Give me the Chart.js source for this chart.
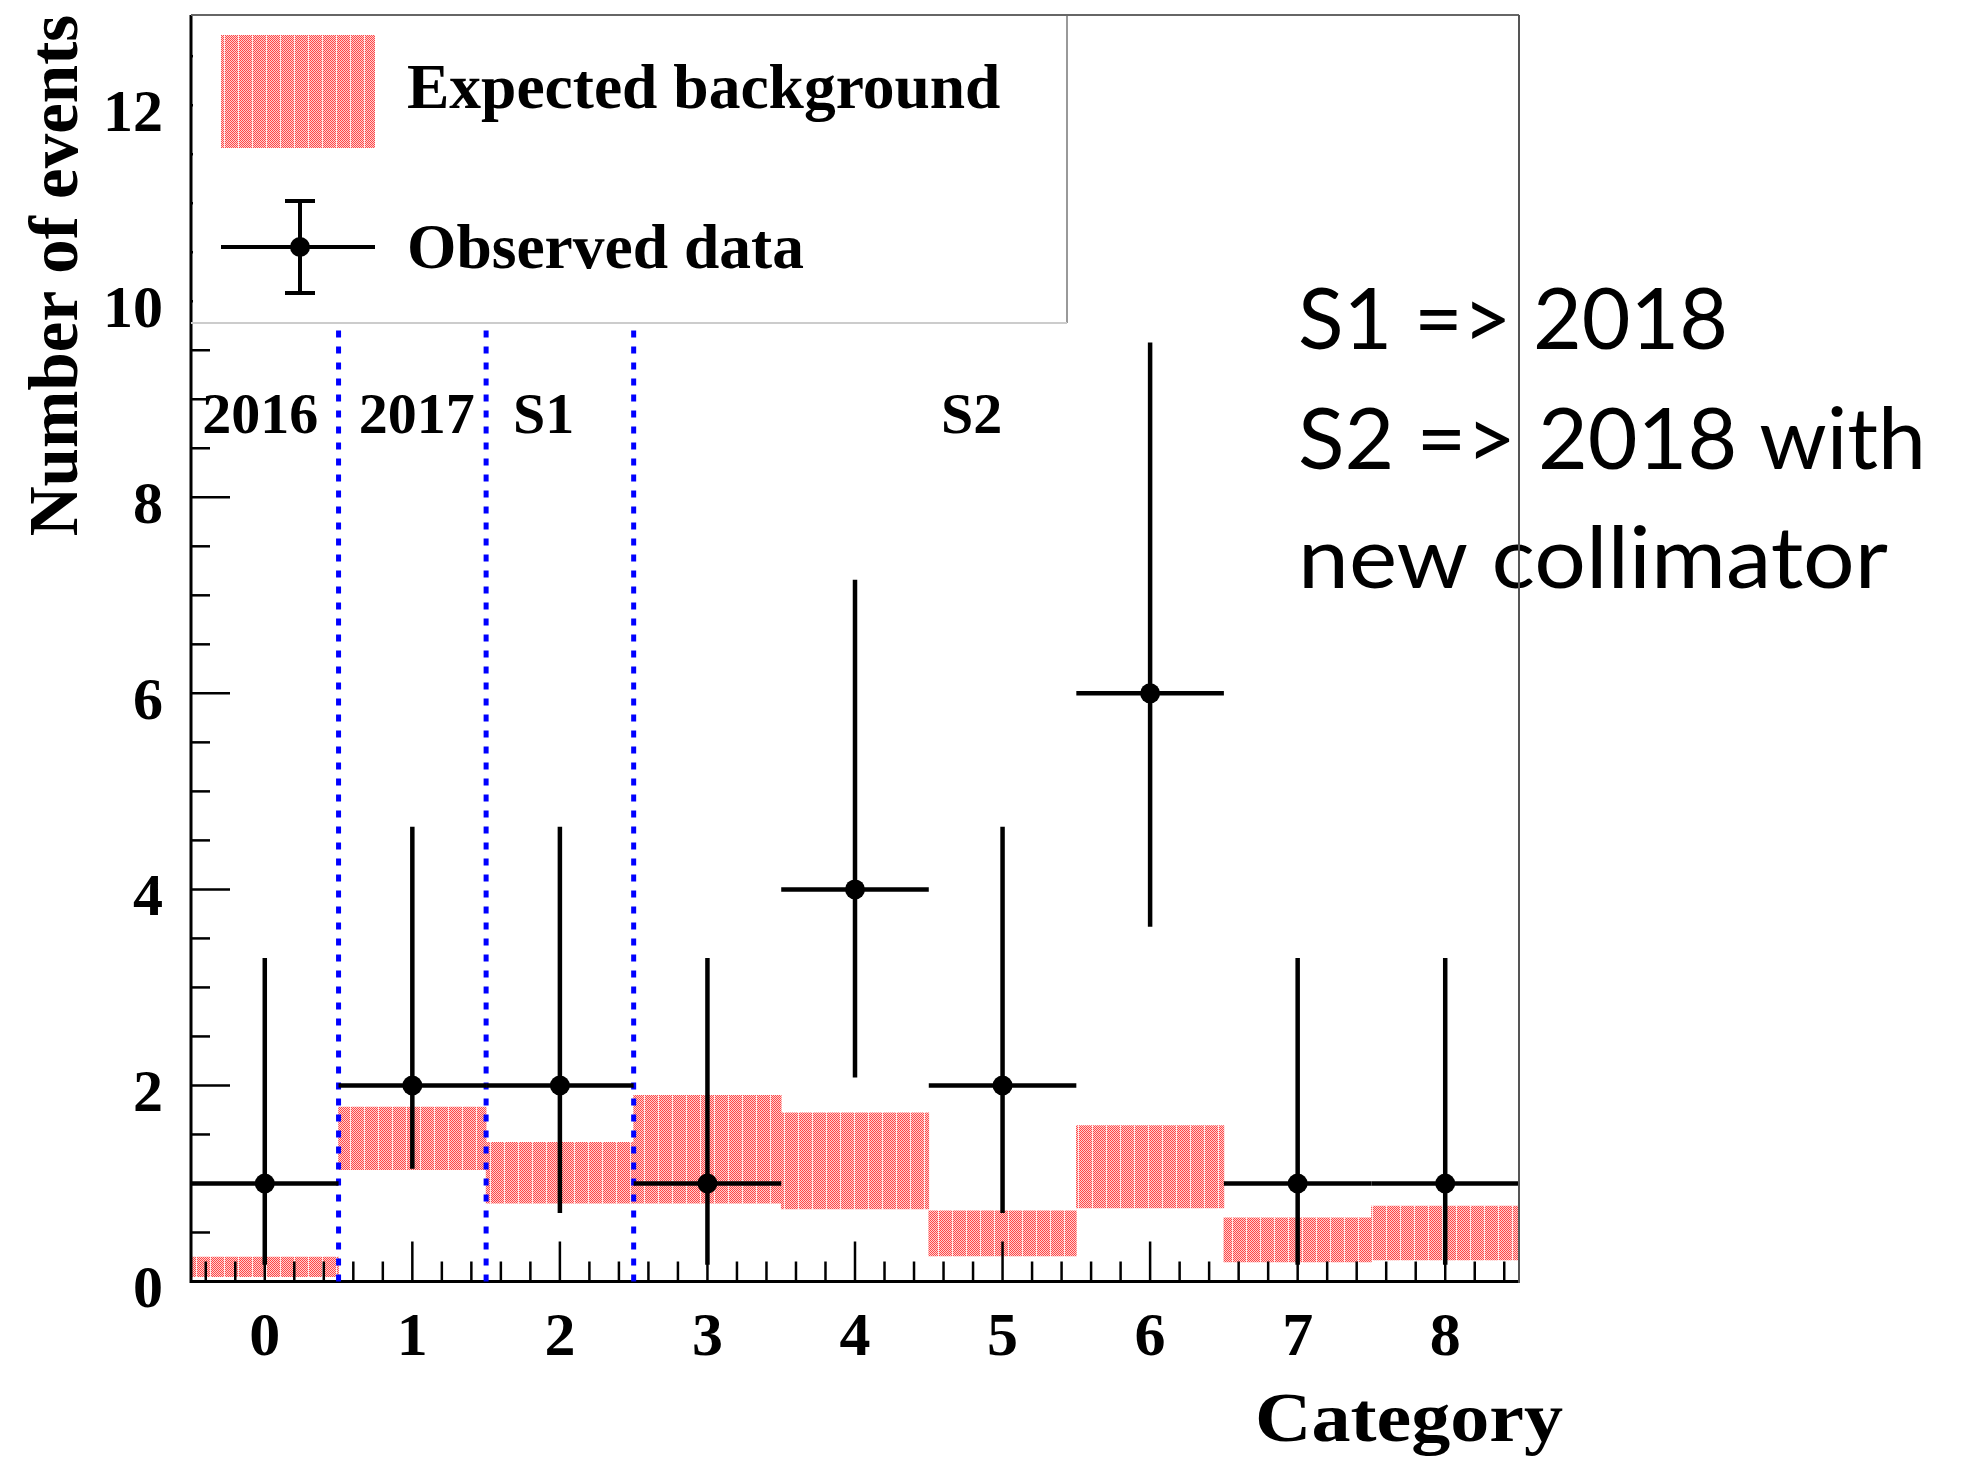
<!DOCTYPE html>
<html>
<head>
<meta charset="utf-8">
<script src="https://cdn.jsdelivr.net/npm/chart.js@4.4.0/dist/chart.umd.min.js"></script>
<style>
  html, body { margin: 0; padding: 0; background: #fff; }
</style>
</head>
<body>
<canvas id="myChart" width="1972" height="1458"></canvas>
<script>
// data
var categories = [0, 1, 2, 3, 4, 5, 6, 7, 8];
var observed   = [1, 2, 2, 1, 4, 2, 6, 1, 1];
var obsLow     = [0.17, 1.15, 0.70, 0.17, 2.08, 0.70, 3.62, 0.17, 0.17];
var obsHigh    = [3.30, 4.64, 4.64, 3.30, 7.16, 4.64, 9.58, 3.30, 3.30];
var bgLow      = [0.05, 1.14, 0.80, 0.80, 0.74, 0.26, 0.75, 0.20, 0.22];
var bgHigh     = [0.25, 1.78, 1.42, 1.90, 1.72, 0.72, 1.59, 0.65, 0.77];
var yTicks     = [0, 2, 4, 6, 8, 10, 12];
var periodEdges  = [0.5, 1.5, 2.5];
var periodLabels = ['2016', '2017', 'S1', 'S2'];
var periodLabelX = [-0.03, 1.03, 1.89, 4.79];
var notes = ['S1 => 2018', 'S2 => 2018 with', 'new collimator'];

var SERIF = "'Liberation Serif', 'Times New Roman', serif";

function makePattern() {
    var c = document.createElement('canvas');
    c.width = 14; c.height = 4;
    var g = c.getContext('2d');
    for (var x = 0; x < 14; x++) {
        for (var y = 0; y < 4; y++) {
            if (x === 0) g.fillStyle = '#ffe8e8';
            else g.fillStyle = ((x + y) % 2 === 0) ? '#ff4848' : '#ffd0d0';
            g.fillRect(x, y, 1, 1);
        }
    }
    return g.createPattern(c, 'repeat');
}
var bgPattern = makePattern();

function line(c, x1, y1, x2, y2) {
    c.beginPath(); c.moveTo(x1, y1); c.lineTo(x2, y2); c.stroke();
}

// draw text squeezed/stretched to a given width
function fitText(c, text, x, y, width) {
    var w = c.measureText(text).width;
    c.save();
    c.translate(x, y);
    c.scale(width / w, 1);
    c.fillText(text, 0, 0);
    c.restore();
}

var decor = {
    id: 'decor',
    afterDatasetDraw: function (chart, args) {
        if (args.index !== 0) return;
        var c = chart.ctx, xs = chart.scales.x, ys = chart.scales.y, a = chart.chartArea;
        c.save();
        // ticks inside the frame
        c.strokeStyle = '#000';
        c.lineWidth = 2.5;
        for (var k = 0; k <= 25; k++) {
            var v = k * 0.5, py = ys.getPixelForValue(v);
            line(c, a.left, py, a.left + (v % 2 === 0 ? 39 : 19), py);
        }
        for (var j = -2; j <= 42; j++) {
            var u = j * 0.2, px = xs.getPixelForValue(u);
            var major = Math.abs(u - Math.round(u)) < 1e-6;
            line(c, px, a.bottom, px, a.bottom - (major ? 40 : 20));
        }
        // axes
        c.lineWidth = 3;
        line(c, a.left, a.top, a.left, a.bottom + 1.5);
        line(c, a.left, a.bottom, a.right, a.bottom);
        // period separators
        c.strokeStyle = '#0000ff';
        c.lineWidth = 5;
        c.setLineDash([7, 9]);
        periodEdges.forEach(function (e) {
            var px = xs.getPixelForValue(e);
            line(c, px, a.bottom, px, a.top);
        });
        c.restore();
    },
    beforeDatasetDraw: function (chart, args) {
        if (args.index !== 1) return;
        var c = chart.ctx, xs = chart.scales.x, ys = chart.scales.y;
        c.save();
        c.strokeStyle = '#000';
        c.lineWidth = 4.5;
        categories.forEach(function (cat, i) {
            var px = xs.getPixelForValue(cat);
            line(c, px, ys.getPixelForValue(obsLow[i]), px, ys.getPixelForValue(obsHigh[i]));
            var py = ys.getPixelForValue(observed[i]);
            line(c, xs.getPixelForValue(cat - 0.5), py, xs.getPixelForValue(cat + 0.5), py);
        });
        c.restore();
    },
    afterDraw: function (chart) {
        var c = chart.ctx, xs = chart.scales.x, ys = chart.scales.y, a = chart.chartArea;
        c.save();
        // legend box
        var lx = a.left, ly = a.top, lw = 876, lh = 308;
        c.fillStyle = '#fff';
        c.fillRect(lx + 2, ly, lw - 2, lh);
        c.strokeStyle = '#999';
        c.lineWidth = 2;
        line(c, lx + lw, ly, lx + lw, ly + lh);
        c.strokeStyle = '#ccc';
        line(c, lx, ly + lh, lx + lw, ly + lh);
        c.fillStyle = bgPattern;
        c.fillRect(lx + 30, ly + 20, 154, 113);
        c.fillStyle = '#000';
        c.font = 'bold 63.5px ' + SERIF;
        c.textAlign = 'left';
        c.textBaseline = 'alphabetic';
        c.fillText(chart.data.datasets[0].label, lx + 216, ly + 93);
        c.fillText(chart.data.datasets[1].label, lx + 216, ly + 253);
        c.strokeStyle = '#000';
        c.lineWidth = 4;
        var mx = lx + 109, my = ly + 232;
        line(c, lx + 30, my, lx + 184, my);
        line(c, mx, ly + 186, mx, ly + 278);
        line(c, mx - 15, ly + 186, mx + 15, ly + 186);
        line(c, mx - 15, ly + 278, mx + 15, ly + 278);
        c.beginPath(); c.arc(mx, my, 10, 0, Math.PI * 2); c.fill();

        // period labels
        c.font = 'bold 58px ' + SERIF;
        c.textAlign = 'center';
        periodLabels.forEach(function (t, i) {
            c.fillText(t, xs.getPixelForValue(periodLabelX[i]), ys.getPixelForValue(8.66));
        });

        // x axis title
        c.textAlign = 'left';
        c.font = 'bold 70px ' + SERIF;
        fitText(c, 'Category', 1255, 1441, 308);

        // side notes, each line fitted to its width in the picture
        c.font = "86px Lato, 'Open Sans', sans-serif";
        var noteW = [430, 628, 590];
        notes.forEach(function (t, i) {
            fitText(c, t, 1298, 349 + i * 119.5, noteW[i]);
        });

        // frame top and right
        c.strokeStyle = '#666';
        c.lineWidth = 2;
        line(c, a.left, a.top, a.right, a.top);
        c.strokeStyle = '#555';
        line(c, a.right, a.top, a.right, a.bottom + 1.5);
        c.restore();
    }
};

var ctx = document.getElementById('myChart').getContext('2d');
var chartObj = new Chart(ctx, {
    type: 'bar',
    data: {
        datasets: [
            {
                label: 'Expected background',
                data: categories.map(function (cat, i) { return { x: cat, y: [bgLow[i], bgHigh[i]] }; }),
                backgroundColor: bgPattern,
                borderWidth: 0,
                barPercentage: 1,
                categoryPercentage: 1,
                order: 2
            },
            {
                type: 'scatter',
                label: 'Observed data',
                data: categories.map(function (cat, i) { return { x: cat, y: observed[i] }; }),
                pointRadius: 10,
                pointBackgroundColor: '#000',
                pointBorderWidth: 0,
                order: 1
            }
        ]
    },
    options: {
        responsive: false,
        devicePixelRatio: 1,
        animation: false,
        layout: { padding: { left: 0, right: 453, top: 15, bottom: 0 } },
        plugins: { legend: { display: false }, tooltip: { enabled: false } },
        scales: {
            x: {
                type: 'linear',
                min: -0.5,
                max: 8.5,
                offset: false,
                grid: { display: false, drawTicks: false },
                border: { display: false },
                afterBuildTicks: function (s) { s.ticks = categories.map(function (v) { return { value: v }; }); },
                afterFit: function (s) {
                    s.height = 176.5;
                    s.paddingLeft = 0; s.paddingRight = 0;
                },
                ticks: {
                    font: { family: SERIF, weight: 'bold', size: 62 },
                    color: '#000',
                    padding: 20,
                    maxRotation: 0,
                    autoSkip: false
                }
            },
            y: {
                min: 0,
                max: 12.92,
                grid: { display: false, drawTicks: false },
                border: { display: false },
                afterBuildTicks: function (s) { s.ticks = yTicks.map(function (v) { return { value: v }; }); },
                afterFit: function (s) {
                    s.width = 191;
                    s.paddingTop = 0; s.paddingBottom = 0;
                },
                ticks: {
                    font: { family: SERIF, weight: 'bold', size: 60 },
                    color: '#000',
                    padding: 28,
                    labelOffset: 10
                },
                title: {
                    display: true,
                    text: 'Number of events',
                    align: 'end',
                    color: '#000',
                    font: { family: SERIF, weight: 'bold', size: 69 },
                    padding: { top: 18, bottom: 0 }
                }
            }
        }
    },
    plugins: [decor]
});
</script>
</body>
</html>
